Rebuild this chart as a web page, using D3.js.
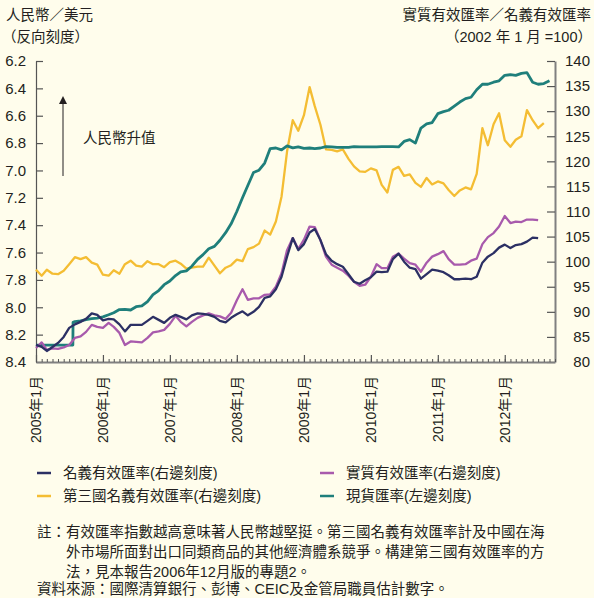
<!DOCTYPE html>
<html>
<head>
<meta charset="utf-8">
<script src="https://cdn.jsdelivr.net/npm/d3@7"></script>
<style>
  html, body { margin: 0; padding: 0; background: #fffdec; }
  svg { display: block; }
  text { font-family: "Liberation Sans", Arial, "Noto Sans CJK TC", sans-serif; fill: #231f20; }
</style>
</head>
<body>
<script>
// 月份 (2005年1月起)
const startMonth = new Date(2005, 0, 1)

// 名義有效匯率 (右邊刻度)
const neer = [83.4, 83.0, 82.2, 83.0, 83.8, 85.0, 86.8, 87.5, 88.0, 88.6, 89.7, 89.4,
  88.3, 88.6, 88.5, 87.5, 86.1, 87.4, 87.4, 87.4, 88.2, 89.0, 88.4, 87.8,
  88.8, 89.4, 89.0, 88.5, 89.3, 89.7, 89.6, 89.4, 89.0, 88.2, 87.9, 88.8,
  89.5, 90.1, 89.3, 90.0, 91.0, 92.8, 93.1, 94.5, 97.0, 101.0, 104.7, 102.3,
  103.5, 105.8, 106.5, 104.3, 101.5, 100.2, 99.5, 99.0, 97.5, 96.0, 95.6, 96.3,
  96.9, 98.0, 97.9, 98.0, 100.5, 101.6, 100.0, 98.8, 98.5, 96.6, 97.5, 98.4,
  98.2, 97.9, 97.3, 96.5, 96.5, 96.6, 96.5, 97.0, 99.8, 101.0, 101.7, 102.8,
  103.4, 102.7, 103.3, 103.5, 104.0, 104.8, 104.7]

// 實質有效匯率 (右邊刻度)
const reer = [82.8, 83.9, 82.4, 82.7, 82.6, 82.9, 83.4, 84.8, 85.1, 86.0, 87.4, 87.0,
  86.8, 87.8, 87.0, 85.8, 83.4, 84.1, 84.0, 83.9, 84.8, 85.9, 86.1, 86.4,
  87.6, 89.2, 88.0, 87.1, 88.0, 88.8, 89.3, 89.7, 89.3, 89.1, 88.6, 89.8,
  92.3, 94.5, 92.4, 92.7, 92.7, 93.4, 93.5, 95.0, 97.7, 102.3, 104.7, 102.5,
  104.4, 107.0, 106.9, 104.3, 101.0, 99.4, 98.8, 98.2, 97.2, 96.0, 95.2, 95.4,
  97.0, 99.5, 98.7, 98.7, 101.0, 101.6, 100.6, 99.7, 99.4, 98.0, 99.8, 101.0,
  101.5, 102.1, 100.5, 99.4, 99.4, 99.5, 100.2, 100.6, 103.5, 104.9, 105.7, 107.0,
  109.1, 107.7, 108.0, 107.9, 108.4, 108.4, 108.3]

// 第三國名義有效匯率 (右邊刻度)
const thirdNeer = [98.4, 97.2, 98.4, 97.6, 97.5, 98.2, 99.5, 100.9, 100.5, 100.9, 99.8, 99.4,
  97.4, 97.2, 98.3, 97.6, 99.5, 100.2, 99.2, 99.0, 100.1, 99.5, 99.5, 98.9,
  99.9, 100.2, 99.6, 98.6, 98.8, 99.0, 99.0, 100.8, 99.2, 97.7, 98.8, 99.3,
  100.4, 100.1, 102.5, 102.9, 103.6, 106.2, 105.4, 108.0, 113.0, 122.0, 128.2, 126.1,
  129.2, 134.8, 131.0, 127.3, 122.4, 122.3, 122.0, 122.4, 120.5, 119.0, 118.0, 117.9,
  118.6, 118.2, 115.3, 113.8, 118.3, 118.9, 117.1, 117.4, 115.7, 114.9, 116.7, 115.4,
  116.0, 115.6, 114.3, 113.1, 114.2, 114.8, 114.4, 117.5, 126.6, 123.2, 127.4, 129.6,
  124.2, 122.9, 124.3, 125.0, 130.2, 128.2, 126.6, 127.6]

// 現貨匯率 (左邊刻度, 人民幣/美元, 每月)
const spotRate = [8.2765, 8.2765, 8.2765, 8.2765, 8.2765, 8.2765, 8.2765, 8.105, 8.100, 8.090, 8.083, 8.080,
  8.070, 8.055, 8.040, 8.017, 8.016, 8.020, 7.996, 7.990, 7.958, 7.908, 7.878, 7.835,
  7.808, 7.768, 7.741, 7.734, 7.700, 7.650, 7.615, 7.572, 7.555, 7.510, 7.455, 7.390,
  7.300, 7.200, 7.110, 7.015, 6.998, 6.946, 6.840, 6.836, 6.850, 6.820, 6.835, 6.827,
  6.838, 6.836, 6.840, 6.836, 6.826, 6.828, 6.832, 6.832, 6.831, 6.826, 6.827, 6.827,
  6.828, 6.827, 6.826, 6.826, 6.826, 6.828, 6.788, 6.775, 6.800, 6.690, 6.660, 6.650,
  6.585, 6.570, 6.560, 6.530, 6.500, 6.475, 6.465, 6.410, 6.370, 6.370, 6.355, 6.345,
  6.305, 6.300, 6.305, 6.290, 6.285, 6.355, 6.370, 6.365, 6.345]
// 2005年7月21日匯改
const revalDates = ['2005-07-21', '2005-07-22']
const revalRate = [8.2765, 8.11]

const yearLabels = ['2005年1月', '2006年1月', '2007年1月', '2008年1月', '2009年1月', '2010年1月', '2011年1月', '2012年1月']

const legendNames = ['名義有效匯率(右邊刻度)', '實質有效匯率(右邊刻度)', '第三國名義有效匯率(右邊刻度)', '現貨匯率(左邊刻度)']
const colors = ['#2c3064', '#a85aac', '#f4bd33', '#1f7f7b']

const noteLines = [
  '註：有效匯率指數越高意味著人民幣越堅挺。第三國名義有效匯率計及中國在海',
  '外市場所面對出口同類商品的其他經濟體系競爭。構建第三國有效匯率的方',
  '法，見本報告2006年12月版的專題2。'
]
const sourceLine = '資料來源：國際清算銀行、彭博、CEIC及金管局職員估計數字。'

function draw() {
  const width = 594, height = 598
  const margin = {top: 61, right: 555, bottom: 362, left: 36}

  const months = spotRate.map((d, i) => d3.timeMonth.offset(startMonth, i))
  const parse = d3.timeParse('%Y-%m-%d')

  const x = d3.scaleTime()
    .domain([startMonth, new Date(2012, 9, 1)])
    .range([margin.left, margin.right])
  const yL = d3.scaleLinear().domain([6.2, 8.4]).range([margin.top, margin.bottom])
  const yR = d3.scaleLinear().domain([140, 80]).range([margin.top, margin.bottom])

  const svg = d3.select('body').append('svg')
    .attr('width', width)
    .attr('height', height)

  svg.append('rect').attr('width', width).attr('height', height).attr('fill', '#fffdec')

  // 坐標軸
  const fontSize = '15px'
  svg.append('g')
    .attr('transform', `translate(${margin.left},0)`)
    .call(d3.axisLeft(yL).tickValues(d3.range(6.2, 8.41, 0.2)).tickFormat(d3.format('.1f'))
      .tickSize(-7).tickSizeOuter(0).tickPadding(10))
    .call(g => g.select('.domain').attr('stroke', '#555').attr('stroke-width', 1.2))
    .call(g => g.selectAll('line').attr('stroke', '#555').attr('stroke-width', 1.2))
    .call(g => g.selectAll('text').style('font-size', fontSize).attr('fill', '#231f20'))

  svg.append('g')
    .attr('transform', `translate(${margin.right},0)`)
    .call(d3.axisRight(yR).tickValues(d3.range(80, 141, 5))
      .tickSize(-8).tickSizeOuter(0).tickPadding(35))
    .call(g => g.select('.domain').attr('stroke', '#808080').attr('stroke-width', 2))
    .call(g => g.selectAll('line').attr('stroke', '#555').attr('stroke-width', 1.2))
    .call(g => g.selectAll('text').style('font-size', fontSize).attr('text-anchor', 'end').attr('fill', '#231f20'))

  // 月份小刻度
  svg.append('g')
    .attr('transform', `translate(0,${margin.bottom})`)
    .call(d3.axisBottom(x).ticks(d3.timeMonth.every(1)).tickFormat('').tickSize(-3).tickSizeOuter(0))
    .call(g => g.select('.domain').attr('stroke', '#808080').attr('stroke-width', 2))
    .call(g => g.selectAll('line').attr('stroke', '#555'))

  const years = yearLabels.map((d, i) => new Date(2005 + i, 0, 1))
  const xAxis = svg.append('g')
    .attr('transform', `translate(0,${margin.bottom})`)
    .call(d3.axisBottom(x).tickValues(years).tickFormat((d, i) => yearLabels[i]).tickSize(-7).tickSizeOuter(0))
    .call(g => g.select('.domain').remove())
    .call(g => g.selectAll('line').attr('stroke', '#555').attr('stroke-width', 1.2))
  xAxis.selectAll('text')
    .style('font-size', '14px')
    .attr('fill', '#231f20')
    .attr('text-anchor', 'end')
    .attr('dy', '0.35em')
    .attr('y', 0)
    .attr('transform', 'translate(0,14) rotate(-90)')

  // 線
  const lineR = d3.line().x(d => x(d.date)).y(d => yR(d.value))
  const lineL = d3.line().x(d => x(d.date)).y(d => yL(d.value))

  let spot = spotRate.map((v, i) => ({date: months[i], value: v}))
  revalDates.forEach((d, i) => spot.push({date: parse(d), value: revalRate[i]}))
  spot.sort((a, b) => a.date - b.date)

  const series = [neer, reer, thirdNeer]
  const order = [2, 3, 1, 0]
  order.forEach(k => {
    if (k === 3) {
      svg.append('path')
        .attr('d', lineL(spot))
        .attr('fill', 'none')
        .attr('stroke', colors[3])
        .attr('stroke-width', 2.8)
        .attr('stroke-linejoin', 'round')
    } else {
      const data = series[k].map((v, i) => ({date: months[i], value: v}))
      svg.append('path')
        .attr('d', lineR(data))
        .attr('fill', 'none')
        .attr('stroke', colors[k])
        .attr('stroke-width', 2.3)
        .attr('stroke-linejoin', 'round')
    }
  })

  // 標題
  const title = svg.append('g').style('font-size', '14.5px')
  title.append('text').attr('x', 6).attr('y', 20).text('人民幣／美元')
  title.append('text').attr('x', 2).attr('y', 42).text('（反向刻度）')
  title.append('text').attr('x', 591).attr('y', 20).attr('text-anchor', 'end').text('實質有效匯率／名義有效匯率')
  title.append('text').attr('x', 592).attr('y', 42).attr('text-anchor', 'end').text('（2002 年 1 月 =100）')

  // 人民幣升值 箭頭
  svg.append('defs').append('marker')
    .attr('id', 'arrow')
    .attr('viewBox', '0 0 10 10')
    .attr('refX', 5).attr('refY', 5)
    .attr('markerWidth', 8).attr('markerHeight', 8)
    .attr('markerUnits', 'userSpaceOnUse')
    .attr('orient', 'auto')
    .append('path').attr('d', 'M0,0 L10,5 L0,10 Z').attr('fill', '#231f20')
  svg.append('line')
    .attr('x1', 63).attr('x2', 63)
    .attr('y1', 176).attr('y2', 100)
    .attr('stroke', '#231f20').attr('stroke-width', 1)
    .attr('marker-end', 'url(#arrow)')
  svg.append('text').attr('x', 83).attr('y', 143).style('font-size', '14.5px').text('人民幣升值')

  // 圖例
  const legendPos = [[37, 473], [320, 473], [37, 496], [320, 496]]
  legendNames.forEach((name, i) => {
    const g = svg.append('g').attr('transform', `translate(${legendPos[i][0]},${legendPos[i][1]})`)
    g.append('line').attr('x1', 0).attr('x2', 14).attr('stroke', colors[i]).attr('stroke-width', 2.5)
    g.append('text').attr('x', 26).attr('dy', '0.35em').style('font-size', '14.5px').text(name)
  })

  // 註
  const notes = svg.append('g').style('font-size', '14.5px')
  noteLines.forEach((t, i) => {
    notes.append('text').attr('x', i === 0 ? 37 : 66).attr('y', 537 + i * 20).text(t)
  })
  notes.append('text').attr('x', 37).attr('y', 594).text(sourceLine)
}

draw()
</script>
</body>
</html>
